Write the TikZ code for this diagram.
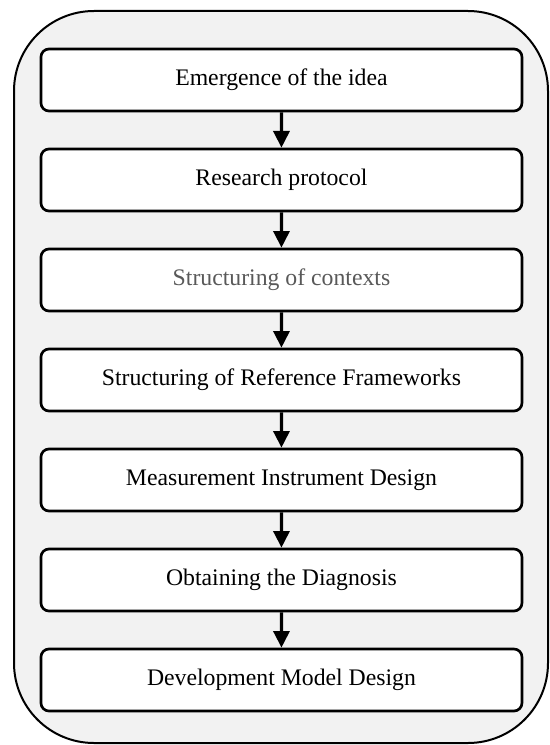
\documentclass[tikz,border=0pt]{standalone}
\usepackage{fontspec}
\setmainfont{Liberation Serif}
\usepackage{xcolor}
\usetikzlibrary{arrows.meta, positioning}
\definecolor{panel-gray}{RGB}{242,242,242}
\definecolor{step-gray}{RGB}{89,89,89}

\begin{document}
\begin{tikzpicture}[
  every node/.style={font=\fontsize{17.8}{21}\selectfont},
  stage/.style={draw, line width=2pt, rounded corners=6pt, fill=white,
    minimum width=360.75pt, minimum height=46.5pt, inner sep=0pt},
  level distance=75pt,
]
  \useasboundingbox (0,0) rectangle (411.75pt,-558.75pt);
  \draw[line width=1.5pt, fill=panel-gray, rounded corners=60pt]
    (10.5pt,-8.25pt) rectangle (411pt,-557.25pt);
  \node[stage] (idea) at (211.1pt,-60pt) {Emergence of the idea}
    [grow=down, edge from parent/.style={draw, line width=2.5pt, -{Triangle[length=12.5pt,width=12pt]}}]
    child { node[stage] (protocol) {Research protocol}
      child { node[stage, text=step-gray] (contexts) {Structuring of contexts}
        child { node[stage] (frameworks) {Structuring of Reference Frameworks}
          child { node[stage] (instrument) {Measurement Instrument Design}
            child { node[stage] (diagnosis) {Obtaining the Diagnosis}
              child { node[stage] (model) {Development Model Design}}
            }
          }
        }
      }
    };
\end{tikzpicture}
\end{document}
